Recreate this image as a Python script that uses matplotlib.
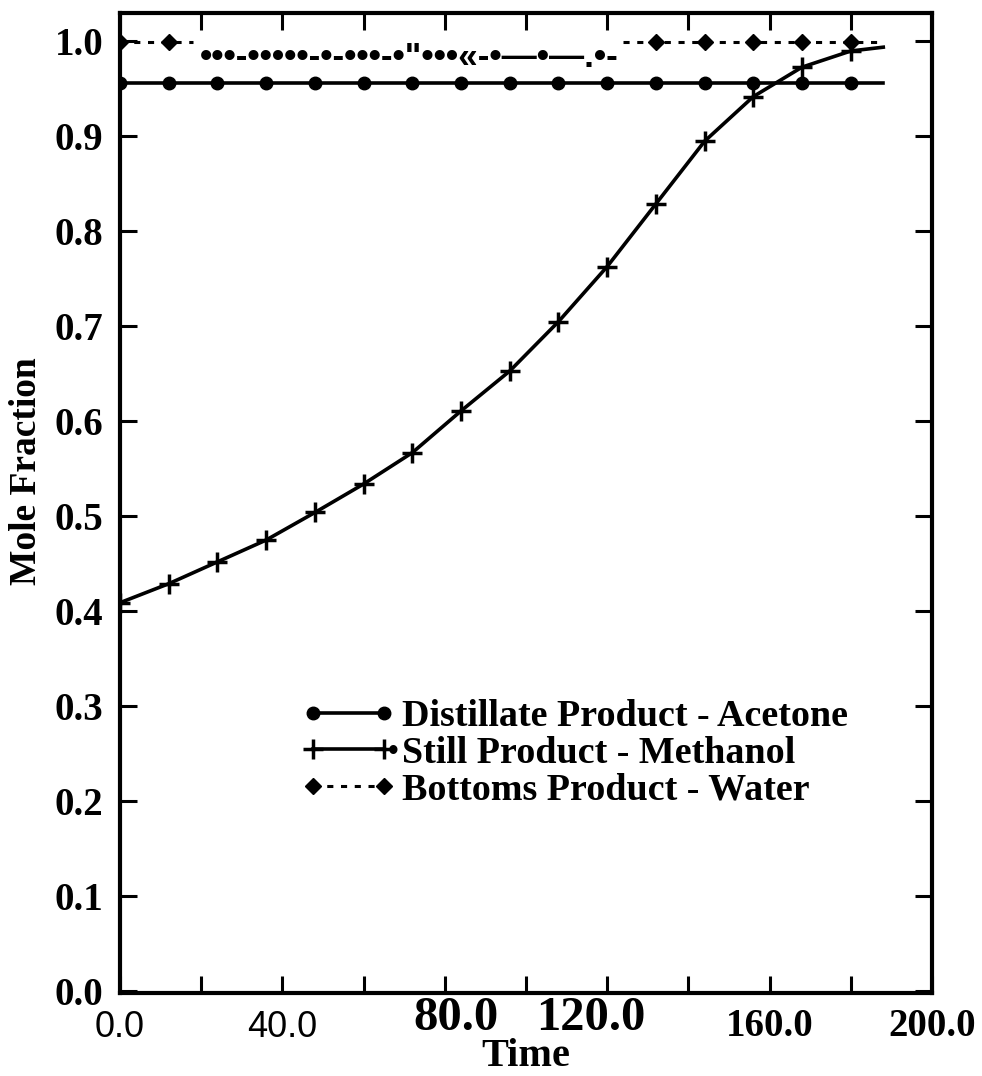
import numpy as np
import matplotlib
matplotlib.use("Agg")
import matplotlib.pyplot as plt
import matplotlib.transforms as mtransforms
from matplotlib.lines import Line2D

# Data
time = [0, 12, 24, 36, 48, 60, 72, 84, 96, 108, 120, 132, 144, 156, 168, 180, 188]
acetone = [0.956] * 17
methanol = [0.409, 0.429, 0.452, 0.475, 0.504, 0.534, 0.567, 0.611, 0.653,
            0.705, 0.763, 0.829, 0.895, 0.942, 0.973, 0.990, 0.994]
# water is only legible at both ends; the middle of the scan is garbled
water_time_a = [0, 12, 18]
water_a = [0.999, 0.999, 0.999]
water_time_b = [124, 132, 144, 156, 168, 180, 187]
water_b = [0.999, 0.999, 0.999, 0.999, 0.999, 0.999, 0.999]
garbled = "•••-•••••-•-•••-•\"•••«-•—•—.•-"
garbled_x = 19.7
garbled_y = 0.983

labels = ["Distillate Product - Acetone", "Still Product - Methanol",
          "Bottoms Product - Water"]
yticks = [0.0, 0.1, 0.2, 0.3, 0.4, 0.5, 0.6, 0.7, 0.8, 0.9, 1.0]
xticks = [0, 40, 80, 120, 160, 200]
xticklabels = ["0.0", "40.0", "80.0", "120.0", "160.0", "200.0"]

serif = "Liberation Serif"
sans = "Liberation Sans"

W, H = 982, 1076
fig = plt.figure(figsize=(W / 100, H / 100), dpi=100)
ax = fig.add_axes([120 / W, (H - 993) / H, 812 / W, 980 / H])

ax.plot(time, acetone, color="black", lw=2.6, marker="o", ms=9,
        markevery=slice(0, -1))
ax.plot(time, methanol, color="black", lw=2.6, marker="+", ms=15, mew=2.5,
        markevery=slice(0, -1))
ax.plot(water_time_a, water_a, color="black", lw=2.2, ls=(0, (2, 2.5)),
        marker="D", ms=8.5, markevery=[0, 1])
ax.plot(water_time_b, water_b, color="black", lw=2.2, ls=(0, (2, 2.5)),
        marker="D", ms=8.5, markevery=slice(1, -1))

g = ax.text(garbled_x, garbled_y, garbled, family=sans, weight="bold",
            fontsize=18, va="center", ha="left")
fig.canvas.draw()
bb = g.get_window_extent()
g.set_fontsize(18 * 417 / bb.width)

ax.set_xlim(0, 200)
ax.set_ylim(-0.002, 1.03)

ax.set_yticks(yticks)
ax.set_yticklabels([f"{v:.1f}" for v in yticks], family=serif,
                   weight="bold", fontsize=28)
ax.set_xticks(xticks)
ax.set_xticks([20, 60, 100, 140, 180], minor=True)
ax.set_xticklabels(xticklabels)

ax.tick_params(which="both", direction="in", length=12, width=2.2,
               top=True, right=True)
ax.tick_params(axis="y", pad=12)
ax.tick_params(axis="x", pad=14)
for s in ax.spines.values():
    s.set_linewidth(3)

# x tick labels were set in mixed fonts in the original
styles = [
    dict(family=sans, weight="normal", size=26, dx=0, dy=2),
    dict(family=sans, weight="normal", size=26, dx=0, dy=2),
    dict(family=serif, weight="bold", size=35, dx=11, dy=16),
    dict(family=serif, weight="bold", size=35, dx=-16, dy=16),
    dict(family=serif, weight="bold", size=28, dx=0, dy=4),
    dict(family=serif, weight="bold", size=28, dx=0, dy=4),
]
for lab, st in zip(ax.get_xticklabels(), styles):
    lab.set_family(st["family"])
    lab.set_weight(st["weight"])
    lab.set_fontsize(st["size"])
    off = mtransforms.ScaledTranslation(st["dx"] / 100, st["dy"] / 100,
                                        fig.dpi_scale_trans)
    lab.set_transform(lab.get_transform() + off)

ax.set_ylabel("Mole Fraction", family=serif, weight="bold", fontsize=27)
ax.yaxis.set_label_coords(-0.094, 0.533)
ax.set_xlabel("Time", family=serif, weight="bold", fontsize=29)
ax.xaxis.set_label_coords(0.5, -0.046)

handles = [
    Line2D([], [], color="black", lw=2.6, marker="o", ms=9),
    Line2D([], [], color="black", lw=2.6, marker="+", ms=15, mew=2.5),
    Line2D([], [], color="black", lw=2.2, ls=(0, (2, 2.5)), marker="D", ms=8.5),
]
leg = ax.legend(handles, labels, loc="upper left",
                bbox_to_anchor=(302 / W, 1 - 699 / H),
                bbox_transform=fig.transFigure, frameon=False, numpoints=2,
                borderpad=0, borderaxespad=0, handlelength=2.45,
                handletextpad=0.18, labelspacing=0.04,
                prop=dict(family=serif, weight="bold", size=27.4))
fig.text(393 / W, 1 - 752 / H, "•", family=sans, fontsize=22,
         ha="center", va="center")

fig.savefig("out.png", dpi=100)
